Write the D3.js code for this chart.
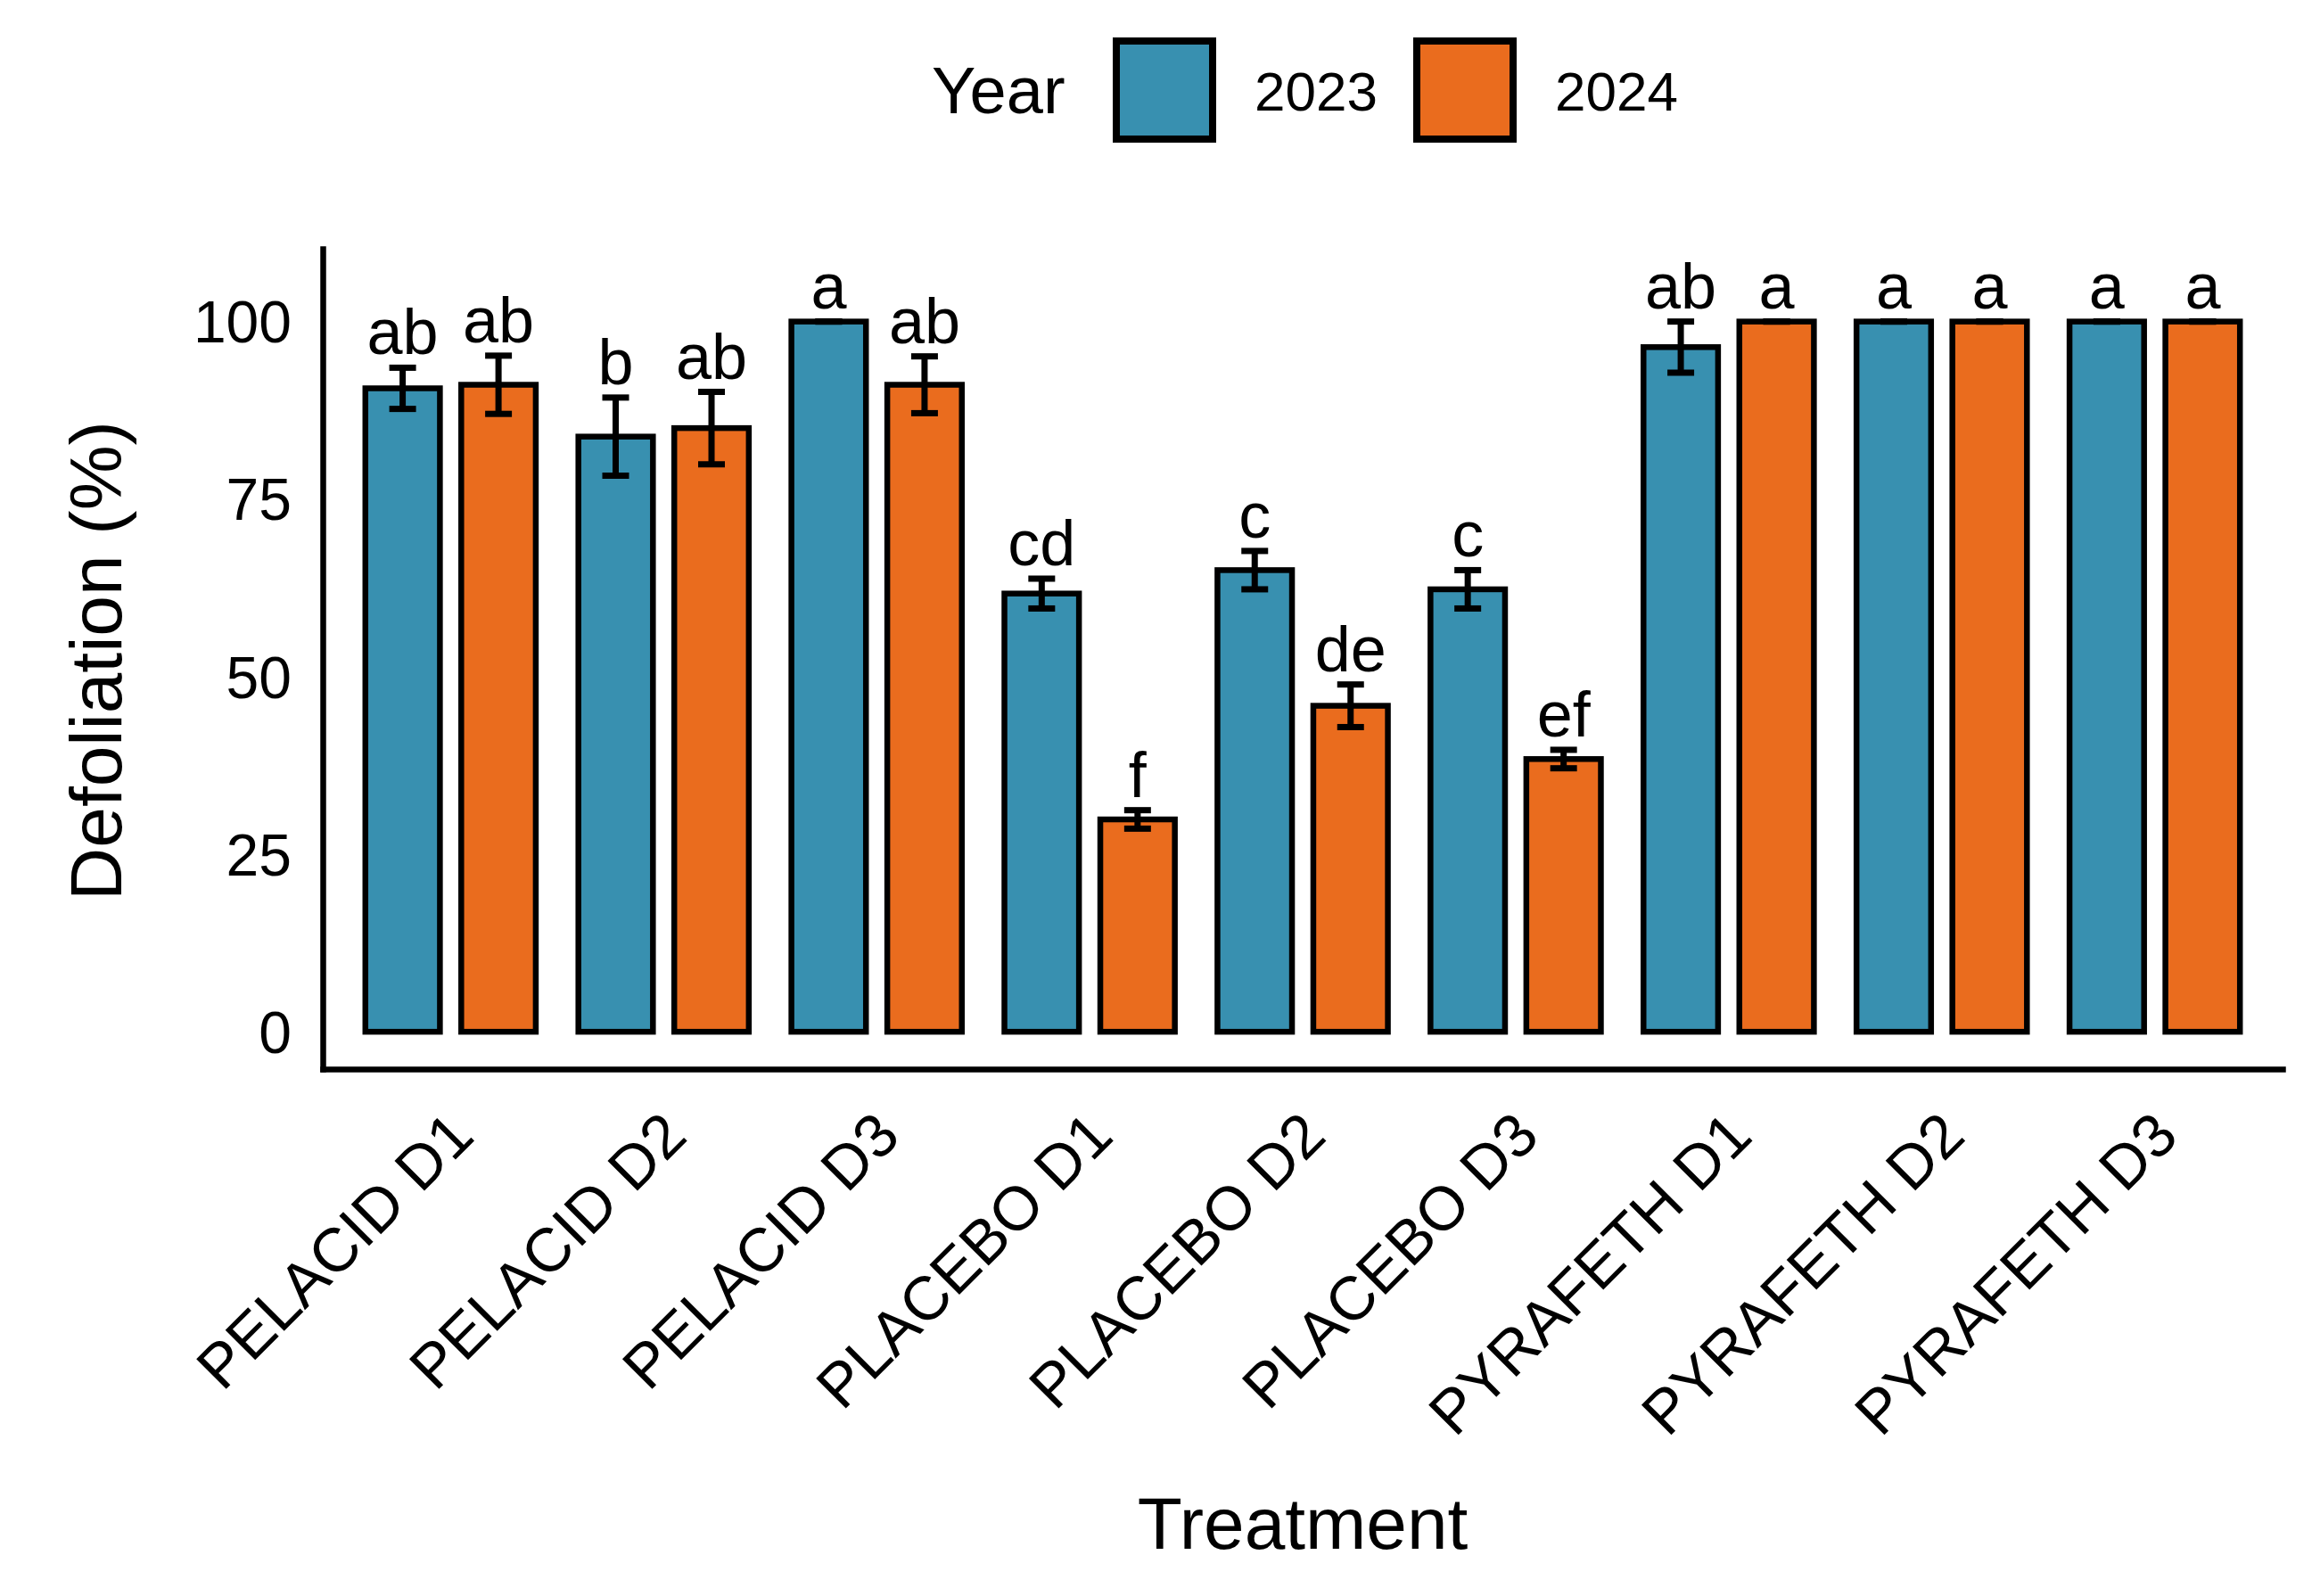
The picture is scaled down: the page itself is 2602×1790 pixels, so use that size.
<!DOCTYPE html>
<html>
<head>
<meta charset="utf-8">
<script src="https://cdn.jsdelivr.net/npm/d3@7"></script>
<style>
  body { margin: 0; background: #fff; }
  svg text { font-family: "Liberation Sans", Arial, sans-serif; fill: #000; }
</style>
</head>
<body>
<div id="chart"></div>
<script>
// data
const treatments = ["PELACID D1", "PELACID D2", "PELACID D3", "PLACEBO D1", "PLACEBO D2",
                    "PLACEBO D3", "PYRAFETH D1", "PYRAFETH D2", "PYRAFETH D3"];
const years = ["2023", "2024"];
const mean2023 = [90.6, 83.8, 100, 61.7, 65.0, 62.3, 96.4, 100, 100];
const se2023 = [2.9, 5.5, 0, 2.1, 2.7, 2.7, 3.6, 0, 0];
const letters2023 = ["ab", "b", "a", "cd", "c", "c", "ab", "a", "a"];
const mean2024 = [91.1, 85.0, 91.1, 29.9, 45.9, 38.4, 100, 100, 100];
const se2024 = [4.1, 5.1, 4.0, 1.3, 3.0, 1.3, 0, 0, 0];
const letters2024 = ["ab", "ab", "ab", "f", "de", "ef", "a", "a", "a"];
const yTicks = [0, 25, 50, 75, 100];
const colors = ["#3890B0", "#EA6C1E"];

const W = 2602, H = 1790;
const mLeft = 362, mRight = 2560, mTop = 279, mBottom = 1199;

const rows = [];
treatments.forEach(function(t, i) {
  rows.push({t: t, year: "2023", m: mean2023[i], se: se2023[i], lab: letters2023[i]});
  rows.push({t: t, year: "2024", m: mean2024[i], se: se2024[i], lab: letters2024[i]});
});

const svg = d3.select("#chart").append("svg")
  .attr("width", W).attr("height", H);

const x = d3.scaleBand().domain(treatments).range([mLeft, mRight])
  .paddingInner(0).paddingOuter(0.1);
const step = x.step();
const x1 = d3.scaleBand().domain(years).range([0, 0.9 * step]);
const color = d3.scaleOrdinal().domain(years).range(colors);
const y = d3.scaleLinear().domain([-5.25, 110.25]).range([mBottom, mTop]);

const barW = 0.35 * step;
function cx(d) { return x(d.t) + 0.05 * step + x1(d.year) + x1.bandwidth() / 2; }

// bars
svg.append("g").selectAll("rect")
  .data(rows).enter().append("rect")
  .attr("x", d => cx(d) - barW / 2)
  .attr("y", d => y(d.m))
  .attr("width", barW)
  .attr("height", d => y(0) - y(d.m))
  .attr("fill", d => color(d.year))
  .attr("stroke", "#000")
  .attr("stroke-width", 6.5);

// error bars
const eb = svg.append("g").attr("stroke", "#000").attr("stroke-width", 7);
const capW = 30;
rows.forEach(function(d) {
  const c = cx(d);
  eb.append("line").attr("x1", c).attr("x2", c).attr("y1", y(d.m - d.se)).attr("y2", y(d.m + d.se));
  eb.append("line").attr("x1", c - capW / 2).attr("x2", c + capW / 2).attr("y1", y(d.m - d.se)).attr("y2", y(d.m - d.se));
  eb.append("line").attr("x1", c - capW / 2).attr("x2", c + capW / 2).attr("y1", y(d.m + d.se)).attr("y2", y(d.m + d.se));
});

// letters
svg.append("g").selectAll("text")
  .data(rows).enter().append("text")
  .attr("x", d => cx(d))
  .attr("y", d => y(d.m + d.se) - 15)
  .attr("text-anchor", "middle")
  .attr("font-size", 72)
  .text(d => d.lab);

// y axis
const yAxis = svg.append("g")
  .attr("transform", "translate(" + mLeft + ",0)")
  .call(d3.axisLeft(y).tickValues(yTicks).tickSize(0).tickPadding(35));
yAxis.select(".domain").attr("stroke-width", 6.5).attr("stroke-linecap", "square");
yAxis.selectAll("text").attr("font-size", 66).attr("font-family", null).attr("dy", "0.35em");

// x axis
const xAxis = svg.append("g")
  .attr("transform", "translate(0," + mBottom + ")")
  .call(d3.axisBottom(x).tickSize(0).tickSizeOuter(0));
xAxis.select(".domain").attr("stroke-width", 6.5).attr("stroke-linecap", "square");
xAxis.selectAll("text")
  .attr("font-size", 69).attr("font-family", null)
  .attr("x", 0).attr("y", 0).attr("dy", null)
  .attr("text-anchor", "end")
  .attr("transform", "translate(29,78) rotate(-45)");

svg.selectAll(".domain").attr("stroke", "#000");

// axis titles
svg.append("text")
  .attr("x", (mLeft + mRight) / 2).attr("y", 1737)
  .attr("text-anchor", "middle").attr("font-size", 82)
  .text("Treatment");
svg.append("text")
  .attr("transform", "translate(136," + ((mTop + mBottom) / 2 + 2) + ") rotate(-90)")
  .attr("text-anchor", "middle").attr("font-size", 82)
  .text("Defoliation (%)");

// legend
const lg = svg.append("g");
lg.append("text").attr("x", 1045).attr("y", 127).attr("font-size", 74).text("Year");
years.forEach(function(yr, i) {
  const kx = 1252 + i * 337;
  lg.append("rect").attr("x", kx).attr("y", 46).attr("width", 108).attr("height", 110)
    .attr("fill", color(yr)).attr("stroke", "#000").attr("stroke-width", 8);
  lg.append("text").attr("x", kx + 155).attr("y", 124).attr("font-size", 62).text(yr);
});
</script>
</body>
</html>
